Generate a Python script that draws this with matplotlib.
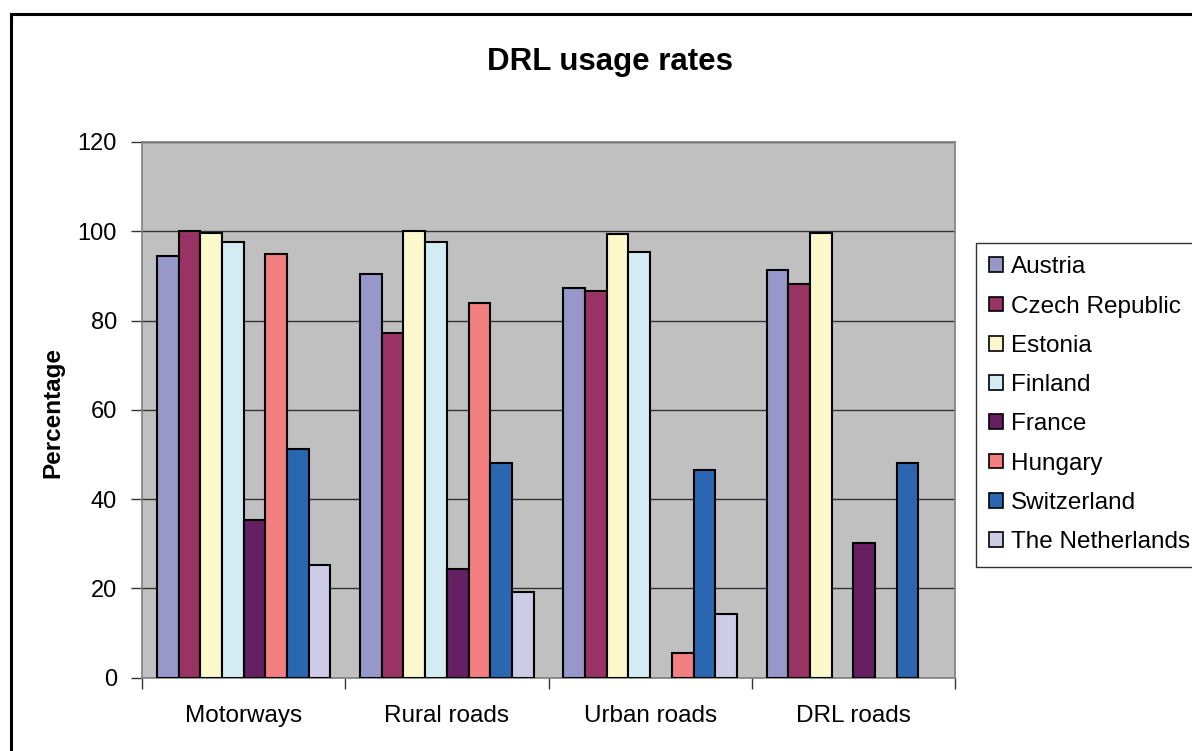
import numpy as np
import matplotlib
matplotlib.use("Agg")
import matplotlib.pyplot as plt
from matplotlib.patches import Rectangle

plt.rcParams['font.family'] = ['Liberation Sans', 'DejaVu Sans']

# data
road_types = ["Motorways", "Rural roads", "Urban roads", "DRL roads"]
countries = ["Austria", "Czech Republic", "Estonia", "Finland", "France",
             "Hungary", "Switzerland", "The Netherlands"]
austria = [94.4, 90.5, 87.3, 91.4]
czech = [100.0, 77.2, 86.5, 88.2]
estonia = [99.6, 100.0, 99.3, 99.6]
finland = [97.6, 97.6, 95.4, np.nan]
france = [35.4, 24.4, np.nan, 30.2]
hungary = [95.0, 83.9, 5.5, np.nan]
switzerland = [51.3, 48.1, 46.4, 48.1]
netherlands = [25.3, 19.1, 14.2, np.nan]
series = [austria, czech, estonia, finland, france, hungary, switzerland, netherlands]
colors = ["#9797C9", "#993366", "#FBF8CC", "#D3ECF3", "#661F63",
          "#F37F80", "#2B67B1", "#CDCBE6"]
y_ticks = [0, 20, 40, 60, 80, 100, 120]

W, H = 1192, 751
fig = plt.figure(figsize=(W / 100, H / 100), dpi=100)
fig.patch.set_facecolor("white")

# chart border (runs off the right and bottom edge)
fig.add_artist(Rectangle((11 / W, -0.1), 1.2, 1 - 14 / H + 0.1,
                         transform=fig.transFigure, fill=False,
                         edgecolor="black", linewidth=2.2, clip_on=False))

ax = fig.add_axes([142 / W, 1 - 677.5 / H, (955 - 142) / W, (677.5 - 142) / H])
ax.set_facecolor("#C0C0C0")

x = np.arange(len(road_types))
w = 0.1068
for j, (vals, name, col) in enumerate(zip(series, countries, colors)):
    ax.bar(x + (j - 3.5) * w, vals, width=w, color=col, edgecolor="black",
           linewidth=1.5, label=name, zorder=3)

ax.set_xlim(-0.5, 3.5)
ax.set_ylim(0, 120)
ax.set_yticks(y_ticks)
ax.yaxis.grid(True, color="#333333", linewidth=1.0, zorder=1)
ax.set_axisbelow(True)

# ticks between groups, labels under the group centres
ax.set_xticks([-0.5, 0.5, 1.5, 2.5, 3.5])
ax.set_xticklabels([])
ax.set_xticks(x, minor=True)
ax.set_xticklabels(road_types, minor=True)
ax.tick_params(axis="x", which="major", length=8, width=1, color="#333333")
ax.tick_params(axis="x", which="minor", length=0, pad=19.5, labelsize=17.5)
ax.tick_params(axis="y", length=8, width=1, color="#333333", pad=10, labelsize=17)

for s in ax.spines.values():
    s.set_color("#808080")
    s.set_linewidth(1.2)

fig.text(610 / W, 1 - 62 / H, "DRL usage rates", ha="center", va="center",
         fontsize=22.5, fontweight="bold")
fig.text(53 / W, 1 - 412 / H, "Percentage", ha="center", va="center",
         rotation=90, fontsize=17.5, fontweight="bold")

leg = ax.legend(loc="upper left", bbox_to_anchor=(976 / W, 1 - 243 / H),
                bbox_transform=fig.transFigure, borderaxespad=0,
                fontsize=17.5, frameon=True, fancybox=False,
                handlelength=0.55, handleheight=0.55, handletextpad=0.35,
                labelspacing=0.71, borderpad=0.55)
leg.get_frame().set_edgecolor("black")
leg.get_frame().set_linewidth(1.0)
for p in leg.get_patches():
    p.set_linewidth(1.2)

fig.savefig("out.png", dpi=100)
